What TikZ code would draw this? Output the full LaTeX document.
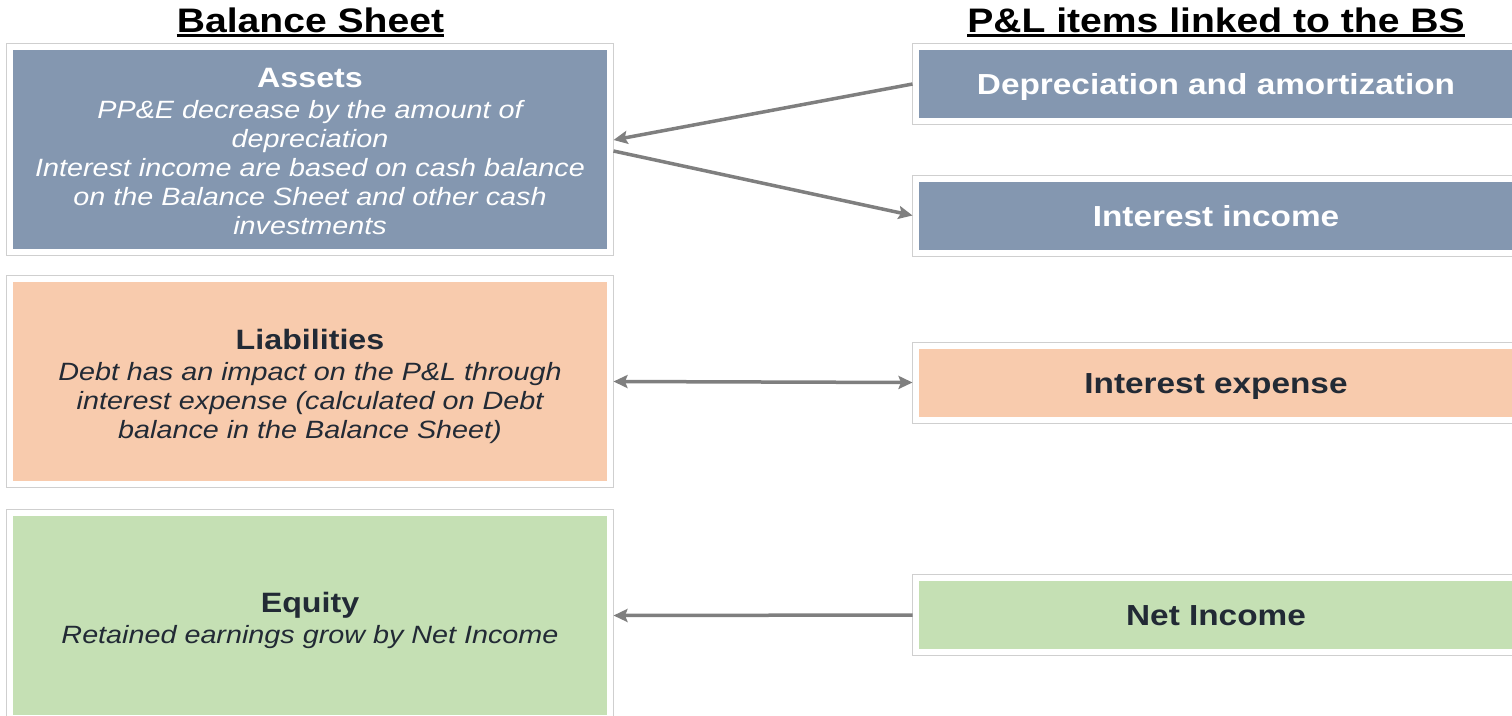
\documentclass[tikz,border=0pt]{standalone}
\usepackage{fontspec}
\newfontfamily\arialw[FakeStretch=1.15]{Liberation Sans}
\usetikzlibrary{arrows.meta,fit}
\definecolor{slate}{HTML}{8497B0}
\definecolor{peach}{HTML}{F8CBAD}
\definecolor{sage}{HTML}{C5E0B4}
\definecolor{ink}{HTML}{222A35}
\definecolor{framegray}{HTML}{CFCFCF}
\definecolor{linkgray}{HTML}{7F7F7F}
% heading line of a balance sheet block; the strut sets how far the text block sits down
\newcommand{\blockhead}[2]{{\fontsize{28}{29}\selectfont\bfseries\rule{0pt}{#1}#2}}
\begin{document}
\begin{tikzpicture}[x=1pt,y=-1pt,
  bsbox/.style={rectangle, minimum width=594pt, minimum height=199pt, inner sep=0pt, outer sep=0pt,
    align=center, font=\arialw\fontsize{25}{29}\selectfont},
  plbox/.style={rectangle, minimum width=594pt, minimum height=68pt, inner sep=0pt, outer sep=0pt,
    text height=21pt, text depth=0pt,
    font=\arialw\bfseries\fontsize{29}{33}\selectfont},
  frame/.style={draw=framegray, line width=1pt, inner sep=6.5pt, outer sep=0pt},
  heading/.style={font=\arialw\bfseries\fontsize{34}{40}\selectfont, anchor=base, inner sep=0pt},
  link/.style={draw=linkgray, line width=3.5pt},
  >={Stealth[length=14pt,width=13pt,inset=2.5pt]},
]
\useasboundingbox (0,0) rectangle (1512,715);
\clip (0,0) rectangle (1512,715);

% column headings
\node[heading] (bsT) at (310.5,32) {Balance Sheet};
\node[heading] (plT) at (1216,32) {P\&L items linked to the BS};
\draw[line width=3pt] ([yshift=-3.5pt]bsT.base west) -- ([yshift=-3.5pt]bsT.base east);
\draw[line width=3pt] ([yshift=-3.5pt]plT.base west) -- ([yshift=-3.5pt]plT.base east);

% balance sheet blocks
\node[bsbox, fill=slate, text=white] (assets) at (310,149.5) {%
  \blockhead{24pt}{Assets}\\[2pt]
  {\itshape PP\&E decrease by the amount of}\\
  {\itshape depreciation}\\
  {\itshape Interest income are based on cash balance}\\
  {\itshape on the Balance Sheet and other cash}\\
  {\itshape investments}};
\node[bsbox, fill=peach, text=ink] (liab) at (310,381.5) {%
  \blockhead{31pt}{Liabilities}\\[2pt]
  {\itshape Debt has an impact on the P\&L through}\\
  {\itshape interest expense (calculated on Debt}\\
  {\itshape balance in the Balance Sheet)}};
\node[bsbox, fill=sage, text=ink] (equity) at (310,615.5) {%
  \blockhead{30pt}{Equity}\\[2pt]
  {\itshape Retained earnings grow by Net Income}};

% P&L items
\node[plbox, fill=slate, text=white] (dep) at (1216,84) {Depreciation and amortization};
\node[plbox, fill=slate, text=white] (intinc) at (1216,215.5) {Interest income};
\node[plbox, fill=peach, text=ink] (intexp) at (1216,382.5) {Interest expense};
\node[plbox, fill=sage, text=ink] (ni) at (1216,615) {Net Income};

% thin outer frames
\node[frame, fit=(assets)] (assetsf) {};
\node[frame, fit=(liab)] (liabf) {};
\node[frame, fit=(equity)] (equityf) {};
\node[frame, fit=(dep)] (depf) {};
\node[frame, fit=(intinc)] (intincf) {};
\node[frame, fit=(intexp)] (intexpf) {};
\node[frame, fit=(ni)] (nif) {};

% links between the statements
\draw[link, ->] (depf.west) -- ([yshift=9.5pt]assetsf.east);
\draw[link, ->] ([yshift=-1.5pt]assetsf.east) -- (intincf.west);
\draw[link, <->] (liabf.east) -- (intexpf.west);
\draw[link, ->] (nif.west) -- (equityf.east);
\end{tikzpicture}
\end{document}
